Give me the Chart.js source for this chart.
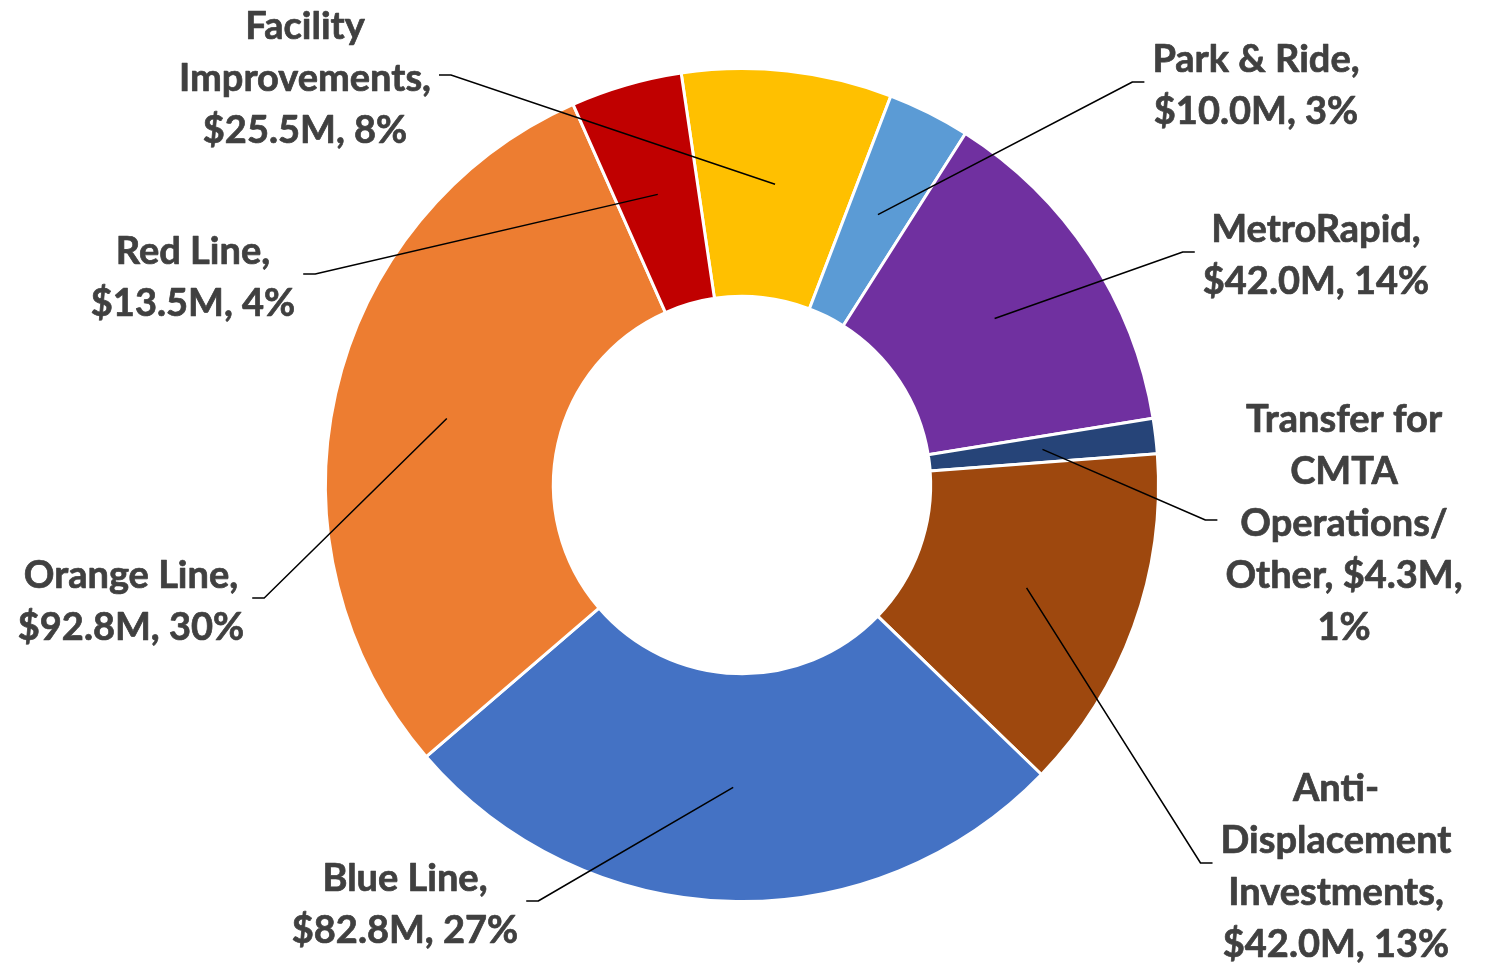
<!DOCTYPE html>
<html>
<head>
<meta charset="utf-8">
<script src="https://cdn.jsdelivr.net/npm/chart.js@4.4.1/dist/chart.umd.min.js"></script>
<style>
  html, body { margin: 0; padding: 0; background: #fff; }
  .wrap { width: 1488px; height: 963px; position: relative; }
</style>
</head>
<body>
<div class="wrap"><canvas id="donut-chart" width="1488" height="963"></canvas></div>
<script>
// data ----------
const categories = ['Facility Improvements', 'Park & Ride', 'MetroRapid', 'Transfer for CMTA Operations/ Other',
  'Anti-Displacement Investments', 'Blue Line', 'Orange Line', 'Red Line'];
const amounts = [25.5, 10.0, 42.0, 4.3, 42.0, 82.8, 92.8, 13.5];   // $M
const shareLabels = ['8%', '3%', '14%', '1%', '13%', '27%', '30%', '4%'];
const colors = ['#FFC000', '#5B9BD5', '#7030A0', '#264478', '#9E480E', '#4472C4', '#ED7D31', '#C00000'];

// label layout (words per line, box centre)
const lineWords = [[1, 1, 2], [3, 2], [1, 2], [2, 1, 1, 2, 1], [1, 1, 1, 2], [2, 2], [2, 2], [2, 2]];
const labelPos = [[305, 77], [1256, 84], [1316, 254], [1344, 522], [1336, 865], [405, 903], [131, 600], [193, 276]];

const FONT = 'bold 38px Lato, "Open Sans", sans-serif';
const LINE_H = 52;

function labelLines(i) {
  let text = categories[i] + ', $' + amounts[i].toFixed(1) + 'M, ' + shareLabels[i];
  let words = text.match(/[^\s-]+-?/g);
  let out = [], k = 0;
  lineWords[i].forEach(n => {
    out.push(words.slice(k, k + n).join(' '));
    k += n;
  });
  return out;
}

// 라벨 + 지시선
const calloutPlugin = {
  id: 'callouts',
  afterDatasetsDraw(chart) {
    const ctx = chart.ctx;
    const arcs = chart.getDatasetMeta(0).data;
    ctx.save();
    ctx.font = FONT;
    arcs.forEach((arc, i) => {
      const p = arc.getProps(['x', 'y', 'startAngle', 'endAngle', 'innerRadius', 'outerRadius'], true);
      const mid = (p.startAngle + p.endAngle) / 2;
      const r = (p.innerRadius + p.outerRadius) / 2;
      const ax = p.x + Math.cos(mid) * r;
      const ay = p.y + Math.sin(mid) * r;

      const lines = labelLines(i);
      const [lx, ly] = labelPos[i];
      let w = 0;
      lines.forEach(t => { w = Math.max(w, ctx.measureText(t).width); });
      const leftSide = lx < p.x;
      const ex = leftSide ? lx + w / 2 + 8 : lx - w / 2 - 8;
      const tx = leftSide ? ex + 12 : ex - 12;
      const ey = ly - 2;

      ctx.strokeStyle = '#000';
      ctx.lineWidth = 1.5;
      ctx.beginPath();
      ctx.moveTo(ex, ey);
      ctx.lineTo(tx, ey);
      ctx.lineTo(ax, ay);
      ctx.stroke();

      // 글자 조금 두껍게
      ctx.fillStyle = '#404040';
      ctx.strokeStyle = '#404040';
      ctx.lineWidth = 0.7;
      ctx.lineJoin = 'round';
      ctx.textAlign = 'center';
      ctx.textBaseline = 'alphabetic';
      lines.forEach((t, j) => {
        const cy = ly + (j - (lines.length - 1) / 2) * LINE_H;
        ctx.fillText(t, lx, cy + 14);
        ctx.strokeText(t, lx, cy + 14);
      });
    });
    ctx.restore();
  }
};

new Chart(document.getElementById('donut-chart'), {
  type: 'doughnut',
  data: {
    labels: categories,
    datasets: [{
      data: amounts,
      backgroundColor: colors,
      borderColor: '#ffffff',
      borderWidth: 3
    }]
  },
  options: {
    responsive: false,
    animation: false,
    rotation: -8.4,
    cutout: '45.3%',
    layout: {
      padding: { left: 324, right: 328, top: 67, bottom: 60 }
    },
    plugins: {
      legend: { display: false },
      tooltip: { enabled: false }
    }
  },
  plugins: [calloutPlugin]
});
</script>
</body>
</html>
